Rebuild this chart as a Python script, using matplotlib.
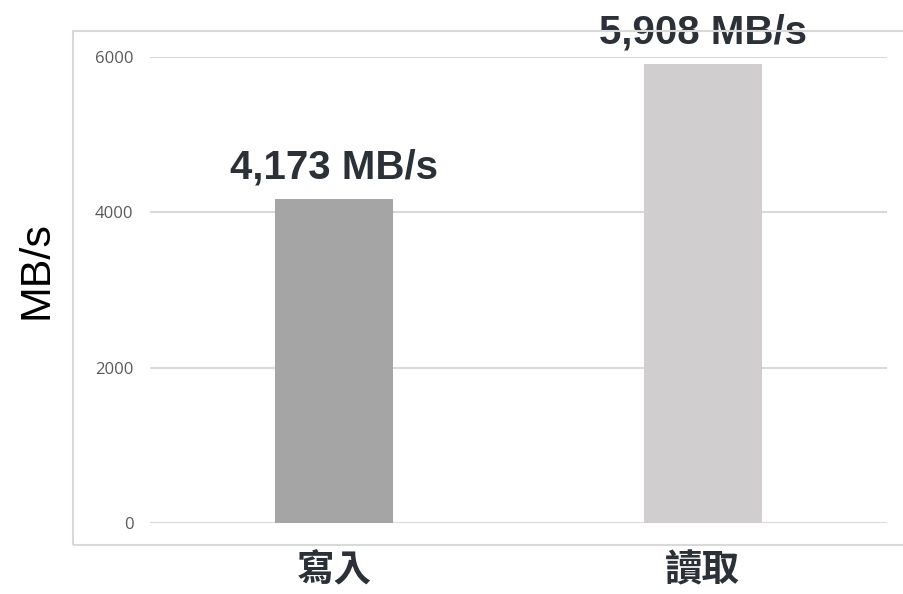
import matplotlib
matplotlib.use("Agg")
import matplotlib.pyplot as plt
from matplotlib.patches import Rectangle

# data
categories = ['寫入', '讀取']
speeds = [4173, 5908]
value_labels = ['4,173 MB/s', '5,908 MB/s']
bar_colors = ['#a5a5a5', '#d0cece']
yticks = [0, 2000, 4000, 6000]

plt.rcParams['font.family'] = ['Liberation Sans', 'Noto Sans CJK TC', 'DejaVu Sans']

W, H = 904, 594
fig = plt.figure(figsize=(W / 100, H / 100), dpi=100)
ax = fig.add_axes([150 / W, 1 - 523 / H, (887 - 150) / W, (523 - 57) / H])

# outer chart frame (right edge runs off the picture)
fig.patches.append(Rectangle((73 / W, 1 - 545 / H), (W + 20 - 73) / W, (545 - 31) / H,
                             transform=fig.transFigure, fill=False,
                             edgecolor='#d9d9d9', linewidth=1.5, zorder=0))

x = list(range(len(categories)))
ax.bar(x, speeds, width=0.32, color=bar_colors, zorder=2)

ax.set_xlim(-0.5, 1.5)
ax.set_ylim(0, 6000)
ax.set_yticks(yticks)
ax.set_yticklabels([str(t) for t in yticks], family=['Open Sans', 'DejaVu Sans'],
                   fontsize=12, color='#595959')
ax.tick_params(axis='y', length=0, pad=12)
ax.set_xticks([])
ax.grid(axis='y', color='#d9d9d9', linewidth=1.5, zorder=1)
for s in ax.spines.values():
    s.set_visible(False)

# value labels above bars
for i, (v, lab) in enumerate(zip(speeds, value_labels)):
    ax.annotate(lab, (i, v), xytext=(0, 15), textcoords='offset points',
                ha='center', va='baseline', fontsize=29, fontweight='bold',
                color='#2b3137', annotation_clip=False)

# category labels below axis
for i, c in enumerate(categories):
    ax.text(i, -0.101, c, transform=ax.get_xaxis_transform(), ha='center', va='center',
            fontsize=27, fontweight='bold', color='#2b3137',
            family=['Noto Sans CJK TC', 'DejaVu Sans'])

fig.text(37 / W, 1 - 270 / H, 'MB/s', rotation=90, ha='center', va='center',
         fontsize=31, color='black')

fig.savefig('out.png', dpi=100)
